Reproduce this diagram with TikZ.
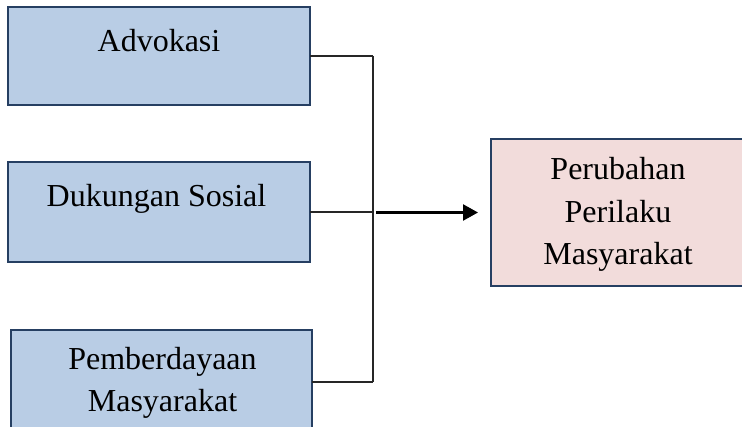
\documentclass[tikz,border=0pt]{standalone}
\usepackage{fontspec}
\setmainfont{Liberation Serif}
\usetikzlibrary{arrows.meta}
\definecolor{boxblue}{HTML}{B9CDE5}
\definecolor{boxpink}{HTML}{F2DCDB}
\definecolor{boxline}{HTML}{263F62}
\begin{document}
\begin{tikzpicture}[x=1pt,y=-1pt,
  box/.style={draw=boxline,line width=2.6pt,anchor=north west,inner sep=0pt,outer sep=0pt},
  bluebox/.style={box,fill=boxblue},
  pinkbox/.style={box,fill=boxpink},
  lbl/.style={anchor=base,inner sep=0pt,align=center,font=\fontsize{32}{42.5}\selectfont},
  conn/.style={draw=black!85,line width=1.2pt},
  arr/.style={draw=black,line width=2.4pt,-{Triangle[length=15pt,width=16pt]}}]
\useasboundingbox (0,0) rectangle (742,427);
\node[bluebox,minimum width=302pt,minimum height=98pt] (A) at (8,7) {};
\node[bluebox,minimum width=302pt,minimum height=100pt] (B) at (8,162) {};
\node[bluebox,minimum width=301pt,minimum height=104pt] (C) at (11,330) {};
\node[pinkbox,minimum width=254pt,minimum height=147pt] (D) at (491,139) {};
\node[lbl] (tA) at (159,52) {Advokasi};
\node[lbl] (tB) at (156.5,207) {Dukungan Sosial};
\node[lbl] (tC) at (162.5,412) {Pemberdayaan\\Masyarakat};
\node[lbl] (tD) at (618,265) {Perubahan\\Perilaku\\Masyarakat};
\coordinate (J) at (373,0);
\coordinate (S) at (376,212.5);
\coordinate (T) at (478,212.5);
\draw[conn] (A.east) -- (A.east -| J);
\draw[conn] (B.east) -- (B.east -| J);
\draw[conn] (C.east) -- (C.east -| J);
\draw[conn] (A.east -| J) -- (C.east -| J);
\draw[arr] (S) -- (T);
\end{tikzpicture}
\end{document}
